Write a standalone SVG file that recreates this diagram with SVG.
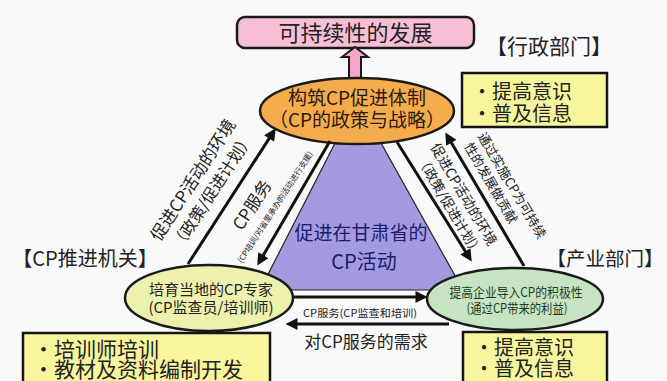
<svg xmlns="http://www.w3.org/2000/svg" width="667" height="381" viewBox="0 0 667 381">
<style>
text{font-family:"Noto Sans CJK SC","Noto Sans",sans-serif;fill:#222}
.ol{stroke:#1a1a1a;stroke-width:2.5}
.yb{fill:#f8f69c;stroke:#151515;stroke-width:2.5}
.ar{fill:none;stroke:#111;stroke-width:3;marker-end:url(#ah)}
.c{text-anchor:middle}
</style>
<defs>
<marker id="ah" viewBox="0 0 10 10" refX="6" refY="5" markerWidth="4.4" markerHeight="4" orient="auto">
<path d="M0,0 L10,5 L0,10 z" fill="#111"/>
</marker>
</defs>
<rect width="667" height="381" fill="#f9f9f9"/>

<g id="goal">
<rect x="237" y="17" width="237" height="31" rx="8" fill="#f7bfd6" class="ol"/>
<text x="355.5" y="40.5" class="c" font-size="22">可持续性的发展</text>
</g>
<g id="goal-arrow">
<polygon points="349,82 349,57 342,57 355,47 368,57 361,57 361,82" fill="#f4a6c6" stroke="#1a1a1a" stroke-width="2"/>
</g>

<g id="center">
<polygon points="357,100 260,290 463,290" fill="#a39ae0" stroke="#222" stroke-width="1.2"/>
<text x="361" y="240" class="c" font-size="19" style="fill:#1c1c6a">促进在甘肃省的</text>
<text x="364" y="269" class="c" font-size="20" style="fill:#1c1c6a">CP活动</text>
</g>

<g id="policy">
<ellipse cx="357" cy="111" rx="97" ry="33" fill="#f5ac4c" class="ol"/>
<text x="357" y="105" class="c" font-size="19" style="fill:#2a1a10">构筑CP促进体制</text>
<text x="357" y="127" class="c" font-size="19" style="fill:#2a1a10">（CP的政策与战略）</text>
</g>

<g id="experts">
<ellipse cx="209" cy="298" rx="84" ry="33" fill="#eef1ad" class="ol"/>
<text x="211" y="295" class="c" font-size="15">培育当地的CP专家</text>
<text x="211" y="313" class="c" font-size="15">(CP监查员/培训师)</text>
</g>

<g id="industry">
<ellipse cx="515" cy="299" rx="88" ry="31" fill="#c7e4c2" class="ol"/>
<text x="516" y="297" class="c" font-size="13" textLength="133" lengthAdjust="spacingAndGlyphs" style="fill:#1d3a22">提高企业导入CP的积极性</text>
<text x="517" y="313" class="c" font-size="13" textLength="101" lengthAdjust="spacingAndGlyphs" style="fill:#1d3a22">(通过CP带来的利益)</text>
</g>

<g id="admin">
<text x="549" y="54" class="c" font-size="21">【行政部门】</text>
<rect x="462" y="73" width="145" height="54" class="yb"/>
<text x="472" y="99" font-size="20">・提高意识</text>
<text x="472" y="121" font-size="20">・普及信息</text>
</g>

<g id="promo">
<text x="85" y="266" class="c" font-size="20">【CP推进机关】</text>
<rect x="23" y="333" width="247" height="60" class="yb"/>
<text x="33" y="357" font-size="21">・培训师培训</text>
<text x="33" y="377" font-size="21">・教材及资料编制开发</text>
</g>

<g id="industry-dept">
<text x="605" y="266" class="c" font-size="19.5">【产业部门】</text>
<rect x="463" y="332" width="144" height="60" class="yb"/>
<text x="474" y="355" font-size="20">・提高意识</text>
<text x="474" y="376" font-size="20">・普及信息</text>
</g>

<g id="connectors">
<path class="ar" d="M188,264 L273.1,132.4"/>
<path class="ar" d="M330,141 L259.7,261.4"/>
<path class="ar" d="M524,266 L447.7,136.6"/>
<path class="ar" d="M397,142 L469.2,257.5"/>
<path class="ar" d="M294,297 L422.7,297"/>
<path class="ar" d="M449,324 L290.3,324"/>

<text transform="translate(193,180) rotate(-57)" y="6" class="c" font-size="17">促进CP活动的环境</text>
<text transform="translate(212,191) rotate(-57)" y="6" class="c" font-size="16">（政策/促进计划）</text>
<text transform="translate(252,205) rotate(-57)" y="6" class="c" font-size="17">CP服务</text>
<text transform="translate(275,207) rotate(-57)" y="3" class="c" font-size="8">(CP培训/对省里承办的活动进行支援)</text>

<text transform="translate(481.3,133.5) rotate(59.4)" y="4.7" font-size="13">通过实施CP为可持续</text>
<text transform="translate(467.7,143.9) rotate(59.4)" y="4.7" font-size="13">性的发展做贡献</text>
<text transform="translate(463.8,194.4) rotate(59.4)" y="5" class="c" font-size="14">促进CP活动的环境</text>
<text transform="translate(449.7,205.8) rotate(59.4)" y="5" class="c" font-size="13.5">（政策/促进计划）</text>

<text x="360" y="317" class="c" font-size="10.5" textLength="114" lengthAdjust="spacingAndGlyphs">CP服务(CP监查和培训)</text>
<text x="366" y="348" class="c" font-size="17">对CP服务的需求</text>
</g>
</svg>
